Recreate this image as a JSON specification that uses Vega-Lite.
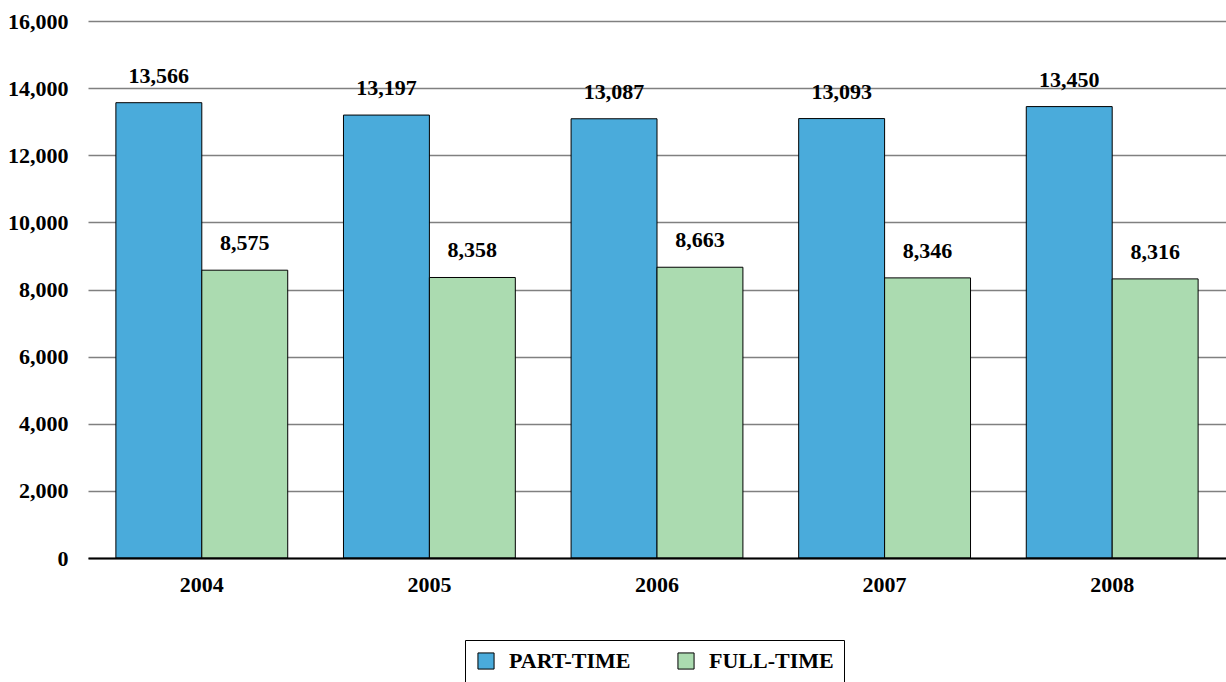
{
  "$schema": "https://vega.github.io/schema/vega-lite/v6.json",
  "width": 1138,
  "height": 537,
  "autosize": {"type": "none"},
  "padding": {"left": 88, "top": 21, "right": 0, "bottom": 124},
  "background": "white",
  "config": {
    "font": "Liberation Serif",
    "view": {"stroke": null}
  },
  "data": {
    "values": [
      {"year": "2004", "type": "PART-TIME", "value": 13566},
      {"year": "2004", "type": "FULL-TIME", "value": 8575},
      {"year": "2005", "type": "PART-TIME", "value": 13197},
      {"year": "2005", "type": "FULL-TIME", "value": 8358},
      {"year": "2006", "type": "PART-TIME", "value": 13087},
      {"year": "2006", "type": "FULL-TIME", "value": 8663},
      {"year": "2007", "type": "PART-TIME", "value": 13093},
      {"year": "2007", "type": "FULL-TIME", "value": 8346},
      {"year": "2008", "type": "PART-TIME", "value": 13450},
      {"year": "2008", "type": "FULL-TIME", "value": 8316}
    ]
  },
  "encoding": {
    "x": {
      "field": "year",
      "type": "nominal",
      "scale": {"paddingInner": 0.245, "paddingOuter": 0.1225},
      "axis": {
        "title": null,
        "labelAngle": 0,
        "labelFont": "Liberation Serif",
        "labelFontWeight": "bold",
        "labelFontSize": 22,
        "labelColor": "black",
        "labelPadding": 16,
        "ticks": false,
        "domainColor": "black",
        "domainWidth": 2,
        "zindex": 1
      }
    },
    "xOffset": {"field": "type", "type": "nominal", "sort": ["PART-TIME", "FULL-TIME"]},
    "y": {
      "field": "value",
      "type": "quantitative",
      "scale": {"domain": [0, 16000]},
      "axis": {
        "title": null,
        "values": [0, 2000, 4000, 6000, 8000, 10000, 12000, 14000, 16000],
        "format": ",.0f",
        "labelFont": "Liberation Serif",
        "labelFontWeight": "bold",
        "labelFontSize": 22,
        "labelColor": "black",
        "labelPadding": 20,
        "ticks": false,
        "domain": false,
        "gridColor": "#808080",
        "gridWidth": 1.5
      }
    }
  },
  "layer": [
    {
      "mark": {"type": "bar", "stroke": "black", "strokeWidth": 1},
      "encoding": {
        "color": {
          "field": "type",
          "type": "nominal",
          "scale": {"domain": ["PART-TIME", "FULL-TIME"], "range": ["#4aabdb", "#abdbb0"]},
          "legend": {
            "title": null,
            "orient": "none",
            "direction": "horizontal",
            "legendX": 377,
            "legendY": 619,
            "strokeColor": "black",
            "padding": 10,
            "symbolType": "square",
            "symbolSize": 260,
            "symbolStrokeColor": "black",
            "symbolStrokeWidth": 1,
            "labelFont": "Liberation Serif",
            "labelFontWeight": "bold",
            "labelFontSize": 22,
            "labelColor": "black",
            "labelOffset": 12,
            "columnPadding": 44
          }
        }
      }
    },
    {
      "mark": {
        "type": "text",
        "dy": -20,
        "baseline": "alphabetic",
        "font": "Liberation Serif",
        "fontWeight": "bold",
        "fontSize": 22,
        "color": "black"
      },
      "encoding": {
        "text": {"field": "value", "type": "quantitative", "format": ",.0f"}
      }
    }
  ]
}
